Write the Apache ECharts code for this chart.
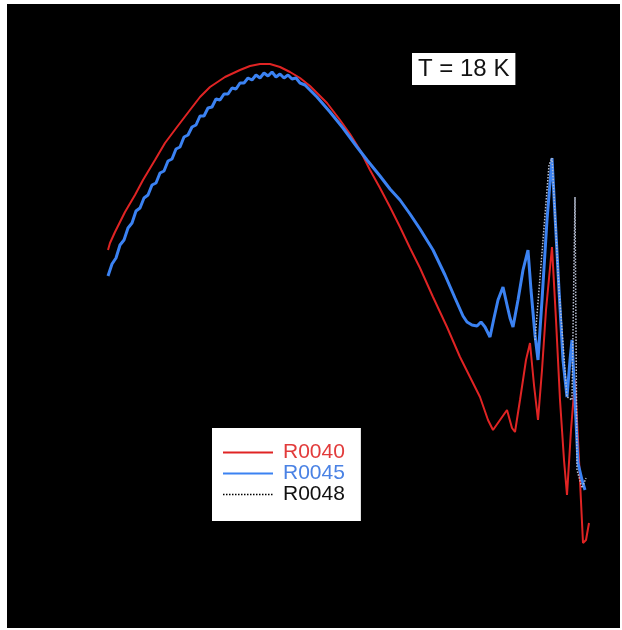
<!DOCTYPE html>
<html>
<head>
<meta charset="utf-8">
<script src="https://cdn.jsdelivr.net/npm/echarts@6/dist/echarts.min.js"></script>
<style>
  html, body { margin: 0; padding: 0; background: #fff; }
  #chart { width: 622px; height: 630px; }
</style>
</head>
<body>
<div id="chart"></div>
<script>
// values, [x, y] in plot units
const r0040 = [
  [101, 378], [103, 385], [108, 396], [118, 416], [128, 433], [136, 448], [148, 468],
  [158, 485], [170, 501], [183, 518], [193, 531], [203, 541], [218, 551], [233, 558],
  [243, 562], [253, 564], [263, 564], [273, 561], [283, 556], [293, 550], [303, 542],
  [313, 532], [320, 525], [333, 508], [343, 494], [353, 478], [363, 458], [373, 440],
  [383, 421], [393, 401], [403, 380], [413, 360], [426, 331], [440, 301], [453, 271],
  [463, 251], [473, 231], [481, 208], [486, 198], [493, 208], [500, 218], [505, 200],
  [508, 196], [513, 228], [519, 268], [523, 285], [527, 243], [531, 208], [535, 258],
  [539, 318], [545, 381], [549, 308], [553, 228], [557, 168], [560, 133], [564, 198],
  [568, 248], [572, 168], [576, 85], [579, 88], [582, 105]
]
const r0045 = [
  [101, 352], [105, 364], [109, 370], [113, 383], [117, 388], [121, 400], [125, 405],
  [129, 417], [133, 420], [137, 430], [141, 433], [145, 443], [149, 445], [153, 455],
  [157, 457], [161, 467], [165, 469], [169, 479], [173, 481], [177, 491], [181, 493],
  [185, 501], [189, 503], [193, 512], [197, 512], [201, 520], [205, 521], [209, 529],
  [213, 528], [217, 534], [221, 534], [225, 540], [229, 539], [233, 545], [237, 545],
  [241, 550], [245, 548], [249, 553], [253, 550], [257, 555], [261, 552], [265, 556],
  [269, 551], [273, 554], [277, 550], [281, 553], [285, 549], [289, 550], [293, 545],
  [298, 543], [310, 531], [323, 516], [336, 500], [350, 481], [360, 468], [373, 452],
  [383, 439], [393, 428], [403, 414], [413, 399], [426, 378], [438, 353], [448, 330],
  [456, 312], [460, 306], [465, 303], [470, 302], [474, 306], [478, 301], [483, 291],
  [487, 310], [491, 328], [496, 341], [500, 323], [503, 310], [506, 301], [511, 328],
  [516, 358], [521, 378], [524, 338], [528, 293], [531, 268], [535, 328], [540, 408],
  [545, 470], [548, 413], [552, 338], [556, 268], [560, 231], [563, 268], [565, 288],
  [568, 228], [571, 165], [575, 148], [578, 138]
]
// only the tail of R0048 shows against the black background
const r0048 = [
  [528, 288], [542, 463], [545, 470], [552, 338], [560, 231], [565, 228], [568, 431],
  [570, 158], [575, 140], [579, 150]
]
const xRange = [0, 613]
const yRange = [0, 624]

const chart = echarts.init(document.getElementById('chart'))
const option = {
  animation: false,
  backgroundColor: '#fff',
  grid: {
    show: true,
    left: 7,
    top: 4,
    right: 2,
    bottom: 2,
    backgroundColor: '#000',
    borderWidth: 0
  },
  title: {
    text: 'T = 18 K',
    left: 412,
    top: 53,
    padding: [4, 6, 4, 6],
    backgroundColor: '#fff',
    textStyle: {
      fontFamily: 'Liberation Sans',
      fontSize: 24,
      fontWeight: 'normal',
      color: '#111',
      lineHeight: 24
    }
  },
  legend: {
    orient: 'vertical',
    left: 212,
    top: 428,
    padding: [14, 16, 16, 10],
    itemGap: 0,
    itemWidth: 50,
    itemHeight: 14,
    backgroundColor: '#fff',
    itemStyle: { opacity: 0 },
    textStyle: {
      fontFamily: 'Liberation Sans',
      fontSize: 21,
      lineHeight: 20,
      padding: [0, 0, 0, 5]
    },
    data: [
      { name: 'R0040', textStyle: { color: '#e23b3b' } },
      { name: 'R0045', textStyle: { color: '#4a82e4' } },
      { name: 'R0048', textStyle: { color: '#111' }, lineStyle: { color: '#000', type: 'dotted', width: 1.5 } }
    ]
  },
  xAxis: { type: 'value', min: xRange[0], max: xRange[1], show: false },
  yAxis: { type: 'value', min: yRange[0], max: yRange[1], show: false },
  series: [
    {
      name: 'R0040',
      type: 'line',
      data: r0040,
      symbol: 'none',
      lineStyle: { color: '#e02424', width: 2 },
      itemStyle: { color: '#e02424' }
    },
    {
      name: 'R0045',
      type: 'line',
      data: r0045,
      symbol: 'none',
      lineStyle: { color: '#3b82f2', width: 3 },
      itemStyle: { color: '#3b82f2' }
    },
    {
      name: 'R0048',
      type: 'line',
      data: r0048,
      symbol: 'none',
      lineStyle: { color: '#b5bdd0', width: 1.5, type: 'dotted' },
      itemStyle: { color: '#b5bdd0' }
    }
  ]
}
chart.setOption(option)
</script>
</body>
</html>
